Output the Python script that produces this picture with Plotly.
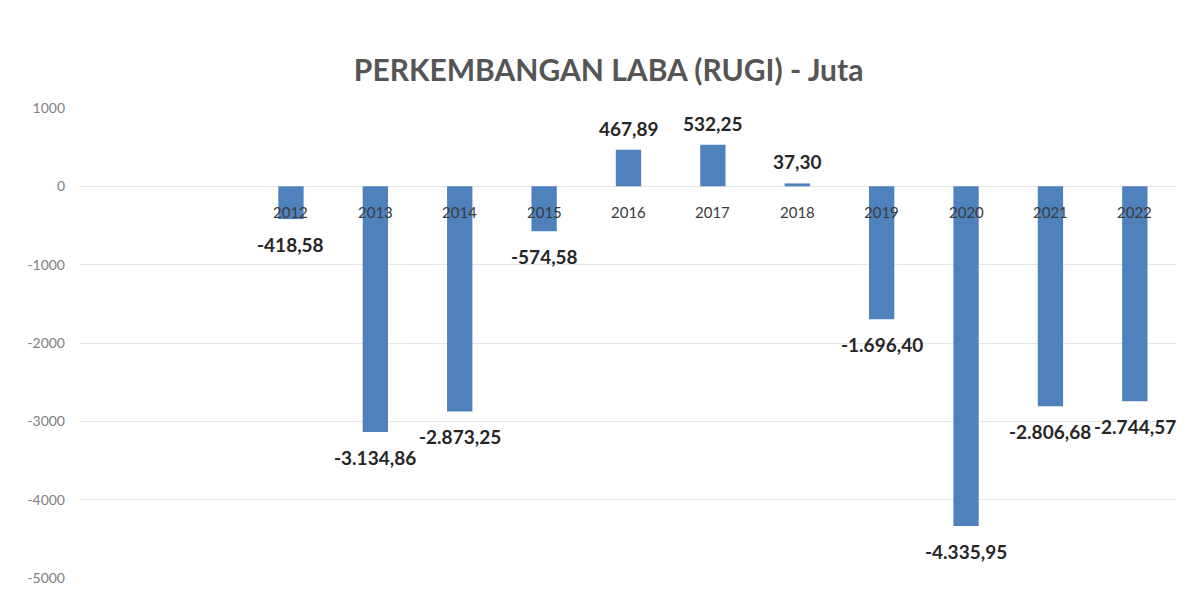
import plotly.graph_objects as go

years = [2012, 2013, 2014, 2015, 2016, 2017, 2018, 2019, 2020, 2021, 2022]
laba_rugi = [-418.58, -3134.86, -2873.25, -574.58, 467.89, 532.25, 37.30,
             -1696.40, -4335.95, -2806.68, -2744.57]
y_ticks = [1000, 0, -1000, -2000, -3000, -4000, -5000]
title_text = "PERKEMBANGAN LABA (RUGI) - Juta"


def fmt_id(v):
    s = f"{v:,.2f}"
    return s.replace(",", "#").replace(".", ",").replace("#", ".")


labels = [fmt_id(v) for v in laba_rugi]

fig = go.Figure()
fig.add_trace(go.Bar(
    x=years, y=laba_rugi,
    marker=dict(color="#4F81BD", line=dict(width=0)),
    width=0.3, hoverinfo="x+y",
))

# category labels sit next to the zero line (Excel style)
for yr in years:
    fig.add_annotation(x=yr, y=0, text=str(yr), showarrow=False,
                       yanchor="top", yshift=-15,
                       font=dict(family="Lato", size=15, color="#3a3a3a"))

# data labels at the outside end of each bar
for yr, v, lab in zip(years, laba_rugi, labels):
    neg = v < 0
    fig.add_annotation(x=yr, y=v, text=f"<b>{lab}</b>", showarrow=False,
                       yanchor="top" if neg else "bottom",
                       yshift=-12 if neg else 8,
                       font=dict(family="Lato", size=19, color="#262626"))

fig.update_layout(
    width=1187, height=608,
    paper_bgcolor="white", plot_bgcolor="white",
    margin=dict(l=72, r=18, t=100, b=38),
    title=dict(text=f"<b>{title_text}</b>", x=0.506, xanchor="center",
               y=1 - 62 / 608, yanchor="middle",
               font=dict(family="Lato", size=30, color="#555555")),
    showlegend=False,
    xaxis=dict(range=[2009.5, 2022.5], showticklabels=False, showgrid=False,
               zeroline=False, showline=False, ticks=""),
    yaxis=dict(range=[-5000, 1000], tickvals=y_ticks,
               ticktext=[str(v) for v in y_ticks],
               showgrid=True, gridcolor="#e6e6e6", gridwidth=1,
               zeroline=True, zerolinecolor="#e6e6e6", zerolinewidth=1,
               showline=False, ticks="", ticklabelstandoff=14,
               tickfont=dict(family="Lato", size=14, color="#808080")),
)

fig.write_html("out.html")
